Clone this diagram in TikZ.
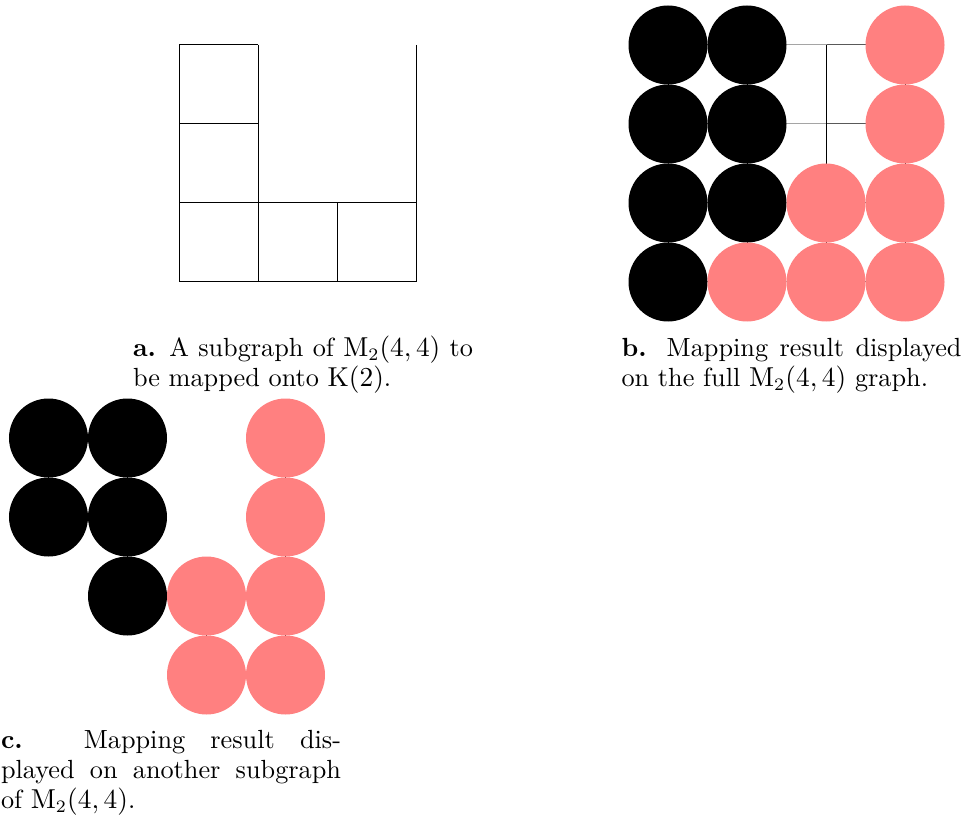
\documentclass[tikz,border=0pt]{standalone}
\usetikzlibrary{backgrounds}
\definecolor{pinkfill}{RGB}{255,128,128}
\begin{document}
\begin{tikzpicture}[x=0.4pt,y=-0.4pt,
  vtx/.style={circle,inner sep=0pt,minimum size=31.6pt,draw=none},
  blk/.style={vtx,fill=black},
  pnk/.style={vtx,fill=pinkfill},
  lnk/.style={draw=black,line width=0.4pt},
  captxt/.style={inner sep=0pt,outer sep=0pt,anchor=base west,font=\fontsize{10.5pt}{12pt}\selectfont}]
\useasboundingbox (0,0) rectangle (966,825);

% ---------- panel a ----------
\foreach \r in {1,...,4}{
  \foreach \c in {1,...,4}{
    \coordinate (a\r\c) at ({179.3+79*(\c-1)},{45+79*(\r-1)});
  }
}
\draw[lnk] (a11) -- (a41);
\draw[lnk] (a12) -- (a42);
\draw[lnk] (a33) -- (a43);
\draw[lnk] (a14) -- (a44);
\draw[lnk] (a11) -- (a12);
\draw[lnk] (a21) -- (a22);
\draw[lnk] (a31) -- (a34);
\draw[lnk] (a41) -- (a44);

\node[captxt] (capa1) at (133,356) {\makebox[136pt][s]{\textbf{a.} A subgraph of $\mathrm{M}_2(4,4)$ to}};
\node[captxt] (capa2) at (133,386) {be mapped onto $\mathrm{K}(2)$.};

% ---------- panel b ----------
\node[blk] (b11) at (668,45) {};
\node[blk] (b12) at (747,45) {};
\coordinate (b13) at (826,45);
\node[pnk] (b14) at (905,45) {};
\node[blk] (b21) at (668,124) {};
\node[blk] (b22) at (747,124) {};
\coordinate (b23) at (826,124);
\node[pnk] (b24) at (905,124) {};
\node[blk] (b31) at (668,203) {};
\node[blk] (b32) at (747,203) {};
\node[pnk] (b33) at (826,203) {};
\node[pnk] (b34) at (905,203) {};
\node[blk] (b41) at (668,282) {};
\node[pnk] (b42) at (747,282) {};
\node[pnk] (b43) at (826,282) {};
\node[pnk] (b44) at (905,282) {};
\begin{scope}[on background layer]
  \foreach \r in {1,...,4}{
    \draw[lnk] (b\r1.center) -- (b\r2.center) -- (b\r3.center) -- (b\r4.center);
    \draw[lnk] (b1\r.center) -- (b2\r.center) -- (b3\r.center) -- (b4\r.center);
  }
\end{scope}

\node[captxt] (capb1) at (621.5,356) {\makebox[136pt][s]{\textbf{b.} Mapping result displayed}};
\node[captxt] (capb2) at (621.5,386) {on the full $\mathrm{M}_2(4,4)$ graph.};

% ---------- panel c ----------
\node[blk] (c11) at (48.5,438) {};
\node[blk] (c12) at (127.5,438) {};
\node[pnk] (c14) at (285.5,438) {};
\node[blk] (c21) at (48.5,517) {};
\node[blk] (c22) at (127.5,517) {};
\node[pnk] (c24) at (285.5,517) {};
\node[blk] (c32) at (127.5,596) {};
\node[pnk] (c33) at (206.5,596) {};
\node[pnk] (c34) at (285.5,596) {};
\node[pnk] (c43) at (206.5,675) {};
\node[pnk] (c44) at (285.5,675) {};
\begin{scope}[on background layer]
  \foreach \u/\v in {c11/c12,c21/c22,c32/c33,c33/c34,c43/c44,
                     c11/c21,c12/c22,c22/c32,c14/c24,c24/c34,c33/c43,c34/c44}{
    \draw[lnk] (\u.center) -- (\v.center);
  }
\end{scope}

\node[captxt] (capc1) at (1,748) {\makebox[136pt][s]{\textbf{c.} Mapping result dis-}};
\node[captxt] (capc2) at (1,778) {\makebox[136pt][s]{played on another subgraph}};
\node[captxt] (capc3) at (1,808) {of $\mathrm{M}_2(4,4)$.};
\end{tikzpicture}
\end{document}
